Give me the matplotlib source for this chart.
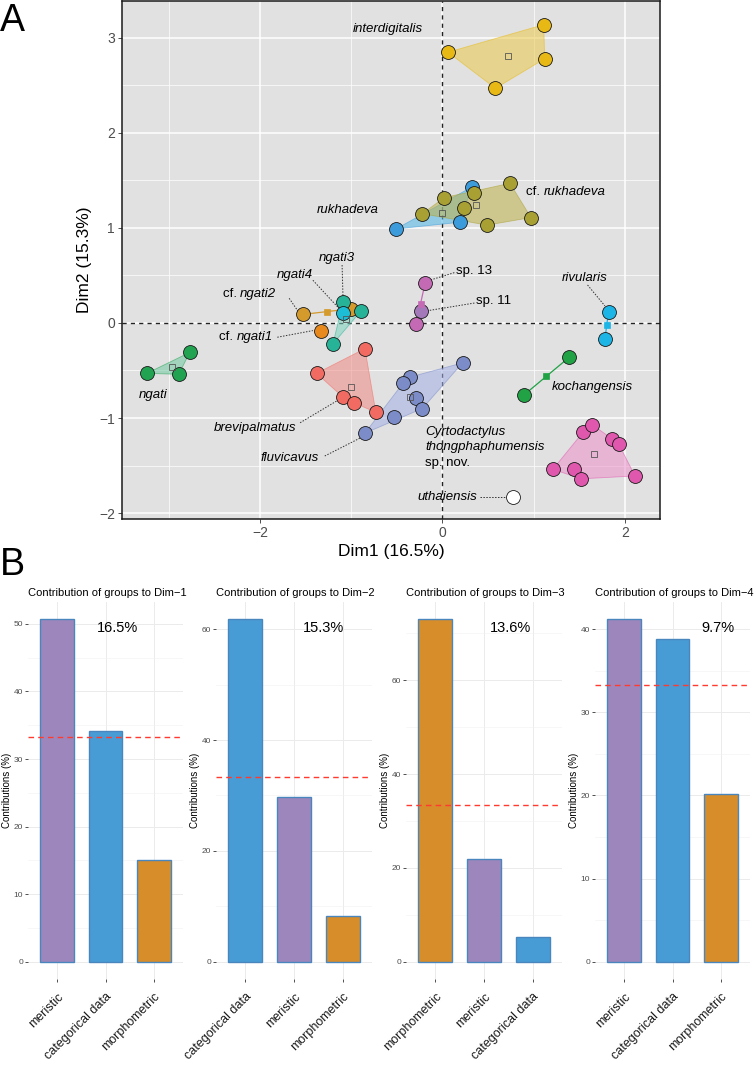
import numpy as np
import matplotlib
matplotlib.use("Agg")
import matplotlib.pyplot as plt
from matplotlib.transforms import ScaledTranslation

plt.rcParams['font.family'] = ['Liberation Sans', 'DejaVu Sans']

# ---------------- Panel A data (PCA individuals, Dim1 / Dim2) ----------------
interdigitalis_x = [0.06, 1.11, 1.12, 0.58]
interdigitalis_y = [2.85, 3.14, 2.78, 2.47]
cf_rukhadeva_x = [0.02, 0.35, 0.74, 0.97, 0.49, 0.24, -0.22]
cf_rukhadeva_y = [1.32, 1.37, 1.47, 1.11, 1.03, 1.21, 1.15]
rukhadeva_x = [-0.51, 0.32, 0.19]
rukhadeva_y = [0.99, 1.43, 1.06]
cf_ngati2_x = [-1.53, -1.00]
cf_ngati2_y = [0.09, 0.15]
cf_ngati1_x = [-1.33]
cf_ngati1_y = [-0.08]
ngati3_x = [-1.09, -0.89, -1.20]
ngati3_y = [0.22, 0.13, -0.22]
ngati4_x = [-1.09]
ngati4_y = [0.10]
ngati_x = [-3.24, -2.77, -2.89]
ngati_y = [-0.53, -0.31, -0.54]
brevipalmatus_x = [-1.38, -0.85, -1.09, -0.97, -0.73]
brevipalmatus_y = [-0.53, -0.27, -0.78, -0.84, -0.94]
fluvicavus_x = [0.22, -0.36, -0.43, -0.29, -0.22, -0.53, -0.85]
fluvicavus_y = [-0.42, -0.57, -0.63, -0.79, -0.90, -0.99, -1.16]
sp13_x = [-0.19, -0.29]
sp13_y = [0.42, -0.01]
sp11_x = [-0.24]
sp11_y = [0.13]
rivularis_x = [1.82, 1.78]
rivularis_y = [0.12, -0.17]
kochangensis_x = [1.39, 0.89]
kochangensis_y = [-0.36, -0.76]
thongphaphumensis_x = [1.54, 1.64, 1.86, 1.93, 1.21, 1.44, 1.52, 2.11]
thongphaphumensis_y = [-1.15, -1.07, -1.22, -1.27, -1.54, -1.54, -1.64, -1.61]
uthaiensis_x = [0.77]
uthaiensis_y = [-1.83]

dim1_percent = 16.5
dim2_percent = 15.3

# ---------------- Panel B data (contributions of groups) ----------------
dim1_categories = ["meristic", "categorical data", "morphometric"]
dim1_values = [50.7, 34.2, 15.0]
dim2_categories = ["categorical data", "meristic", "morphometric"]
dim2_values = [61.8, 29.7, 8.3]
dim3_categories = ["morphometric", "meristic", "categorical data"]
dim3_values = [73.0, 21.9, 5.3]
dim4_categories = ["meristic", "categorical data", "morphometric"]
dim4_values = [41.2, 38.8, 20.2]
dim_variance = ["16.5%", "15.3%", "13.6%", "9.7%"]
expected_contribution = 100.0 / 3

# ---------------- styles ----------------
groups = [
    ("ngati", ngati_x, ngati_y, "#22A352", "#6FC9A0"),
    ("cf_ngati2", cf_ngati2_x, cf_ngati2_y, "#D49A2C", None),
    ("cf_ngati1", cf_ngati1_x, cf_ngati1_y, "#E8891E", None),
    ("ngati3", ngati3_x, ngati3_y, "#27B398", "#7DD3C0"),
    ("ngati4", ngati4_x, ngati4_y, "#1DBDD6", None),
    ("brevipalmatus", brevipalmatus_x, brevipalmatus_y, "#F26B62", "#F08A84"),
    ("fluvicavus", fluvicavus_x, fluvicavus_y, "#7B8CC8", "#A3B0E6"),
    ("rukhadeva", rukhadeva_x, rukhadeva_y, "#3C9BDA", "#4FB8EA"),
    ("cf_rukhadeva", cf_rukhadeva_x, cf_rukhadeva_y, "#A9A033", "#BDB24A"),
    ("interdigitalis", interdigitalis_x, interdigitalis_y, "#E8B914", "#EAC94A"),
    ("sp13", sp13_x, sp13_y, "#C46AB5", None),
    ("sp11", sp11_x, sp11_y, "#A379B9", None),
    ("rivularis", rivularis_x, rivularis_y, "#1CB5E6", None),
    ("kochangensis", kochangensis_x, kochangensis_y, "#20A245", None),
    ("thongphaphumensis", thongphaphumensis_x, thongphaphumensis_y, "#E058AE", "#EC8FCB"),
    ("uthaiensis", uthaiensis_x, uthaiensis_y, "#FFFFFF", None),
]

bar_colors = {"meristic": "#9D86BC", "categorical data": "#489CD6",
              "morphometric": "#D68D2A"}


def convex_hull(pts):
    pts = sorted(set(pts))
    if len(pts) <= 2:
        return pts

    def cross(o, a, b):
        return (a[0] - o[0]) * (b[1] - o[1]) - (a[1] - o[1]) * (b[0] - o[0])
    lower, upper = [], []
    for p in pts:
        while len(lower) >= 2 and cross(lower[-2], lower[-1], p) <= 0:
            lower.pop()
        lower.append(p)
    for p in reversed(pts):
        while len(upper) >= 2 and cross(upper[-2], upper[-1], p) <= 0:
            upper.pop()
        upper.append(p)
    return lower[:-1] + upper[:-1]


W, H = 756, 1066
fig = plt.figure(figsize=(W / 100, H / 100), dpi=100)


def rect(l, t, r, b):
    return [l / W, 1 - b / H, (r - l) / W, (b - t) / H]


# ================= Panel A =================
ax = fig.add_axes(rect(122, 1, 660, 519))
ax.set_facecolor("#E1E1E1")
ax.set_xlim(-3.512, 2.384)
ax.set_ylim(-2.063, 3.389)
ax.set_xticks([-2, 0, 2])
ax.set_xticks([-3, -1, 1], minor=True)
ax.set_yticks([-2, -1, 0, 1, 2, 3])
ax.set_yticks([-1.5, -0.5, 0.5, 1.5, 2.5], minor=True)
ax.set_xticklabels(["\u22122", "0", "2"])
ax.set_yticklabels(["\u22122", "\u22121", "0", "1", "2", "3"])
ax.grid(which="major", color="white", lw=1.1, zorder=0)
ax.grid(which="minor", color="white", lw=0.5, zorder=0)
ax.set_axisbelow(True)
ax.tick_params(which="major", length=3, width=0.6, color="#333333",
               labelsize=10, labelcolor="#4D4D4D", pad=2)
ax.tick_params(which="minor", length=0)
for s in ax.spines.values():
    s.set_color("#1A1A1A")
    s.set_linewidth(1.1)
ax.set_xlabel(f"Dim1 ({dim1_percent}%)", fontsize=12.5, labelpad=3)
ax.set_ylabel(f"Dim2 ({dim2_percent}%)", fontsize=12.5, labelpad=5)

ax.axhline(0, color="#222222", lw=1.0, ls=(0, (3, 3)), zorder=1)
ax.axvline(0, color="#222222", lw=1.0, ls=(0, (3, 3)), zorder=1)

# hulls / connecting lines
for name, xs, ys, col, fill in groups:
    pts = list(zip(xs, ys))
    if len(pts) >= 3:
        hull = convex_hull(pts)
        hx = [p[0] for p in hull]
        hy = [p[1] for p in hull]
        ax.fill(hx, hy, facecolor=fill, alpha=0.55, edgecolor=col,
                lw=0.6, zorder=2)
    elif len(pts) == 2:
        ax.plot(xs, ys, color=col, lw=0.9, zorder=2)

# points
for name, xs, ys, col, fill in groups:
    ax.scatter(xs, ys, s=100, facecolor=col, edgecolor="#1A1A1A",
               linewidth=0.6, zorder=4)

# group centroids
for name, xs, ys, col, fill in groups:
    if len(xs) >= 3:
        ax.plot(np.mean(xs), np.mean(ys), marker="s", ms=4, mfc="none",
                mec="#555555", mew=0.6, zorder=5)
    elif len(xs) == 2:
        ax.plot(np.mean(xs), np.mean(ys), marker="s", ms=4, mfc=col,
                mec=col, mew=0.5, zorder=5)

# labels
LFS = 9.5


def lab(x, y, txt, prefix=None, ha="left"):
    if prefix is None:
        ax.text(x, y, txt, fontsize=LFS, style="italic", ha=ha, va="center",
                zorder=6)
    else:
        t1 = ax.text(x, y, prefix, fontsize=LFS, ha="left", va="center",
                     zorder=6)
        ax.annotate(txt, xy=(1, 0.5), xycoords=t1, fontsize=LFS,
                    style="italic", ha="left", va="center", zorder=6)


def leader(x0, y0, x1, y1):
    ax.plot([x0, x1], [y0, y1], color="#333333", lw=0.7,
            ls=(0, (1.5, 1.5)), zorder=3)


lab(-0.98, 3.09, "interdigitalis")
lab(0.92, 1.38, "rukhadeva", prefix="cf. ")
lab(-1.38, 1.19, "rukhadeva")
lab(-1.16, 0.68, "ngati3", ha="center")
leader(-1.10, 0.61, -1.09, 0.27)
lab(-1.62, 0.50, "ngati4", ha="center")
leader(-1.42, 0.45, -1.15, 0.17)
lab(-2.41, 0.31, "ngati2", prefix="cf. ")
leader(-1.68, 0.26, -1.58, 0.12)
lab(-2.45, -0.15, "ngati1", prefix="cf. ")
leader(-1.81, -0.15, -1.42, -0.08)
lab(-3.17, -0.76, "ngati", ha="center")
lab(-2.05, -1.10, "brevipalmatus", ha="center")
leader(-1.56, -1.05, -1.14, -0.81)
lab(-1.67, -1.42, "fluvicavus", ha="center")
leader(-1.29, -1.40, -0.88, -1.20)
ax.text(0.15, 0.55, "sp. 13", fontsize=LFS, ha="left", va="center", zorder=6)
leader(0.13, 0.53, -0.14, 0.45)
ax.text(0.37, 0.23, "sp. 11", fontsize=LFS, ha="left", va="center", zorder=6)
leader(0.35, 0.21, -0.16, 0.13)
lab(1.56, 0.47, "rivularis", ha="center")
leader(1.59, 0.40, 1.78, 0.18)
lab(1.20, -0.67, "kochangensis")
lab(-0.19, -1.15, "Cyrtodactylus")
lab(-0.19, -1.31, "thongphaphumensis")
ax.text(-0.19, -1.47, "sp. nov.", fontsize=LFS, ha="left", va="center",
        zorder=6)
lab(0.38, -1.83, "uthaiensis", ha="right")
leader(0.41, -1.83, 0.71, -1.83)

fig.text(0.0, 1 - 31 / H, "A", fontsize=27, va="baseline", ha="left")
fig.text(0.0, 1 - 575 / H, "B", fontsize=27, va="baseline", ha="left")

# ================= Panel B =================
bar_sets = [
    (dim1_categories, dim1_values, [0, 10, 20, 30, 40, 50], "Dim\u22121", 28, 183, 0.58),
    (dim2_categories, dim2_values, [0, 20, 40, 60], "Dim\u22122", 216, 372, 0.69),
    (dim3_categories, dim3_values, [0, 20, 40, 60], "Dim\u22123", 406, 562, 0.67),
    (dim4_categories, dim4_values, [0, 10, 20, 30, 40], "Dim\u22124", 595, 750, 0.79),
]

for i, (cats, vals, yt, dname, l, r, tx) in enumerate(bar_sets):
    bx = fig.add_axes(rect(l, 602, r, 979))
    pos = np.arange(1, len(cats) + 1)
    bx.bar(pos, vals, width=0.7, color=[bar_colors[c] for c in cats],
           edgecolor="#4A86BE", linewidth=1.0, zorder=2)
    vmax = max(vals)
    bx.set_ylim(-0.05 * vmax, 1.05 * vmax)
    bx.set_xlim(0.4, len(cats) + 0.6)
    step = yt[1] - yt[0]
    bx.set_yticks(yt)
    minor = np.arange(step / 2, 1.05 * vmax, step)
    bx.set_yticks(minor, minor=True)
    bx.set_xticks(pos)
    bx.set_xticklabels(cats, rotation=45, ha="right", va="top",
                       rotation_mode="anchor", fontsize=9, color="#1A1A1A")
    offs = ScaledTranslation(4 / 72, 0, fig.dpi_scale_trans)
    for t in bx.get_xticklabels():
        t.set_transform(t.get_transform() + offs)
    bx.grid(which="major", color="#EBEBEB", lw=0.7, zorder=0)
    bx.grid(which="minor", axis="y", color="#F2F2F2", lw=0.4, zorder=0)
    bx.set_axisbelow(True)
    for s in bx.spines.values():
        s.set_visible(False)
    bx.tick_params(axis="y", which="major", length=2.5, width=0.6,
                   color="#333333", labelsize=6, labelcolor="#4D4D4D", pad=1)
    bx.tick_params(axis="x", which="major", length=2.5, width=0.6,
                   color="#333333", pad=6)
    bx.tick_params(which="minor", length=0)
    bx.axhline(expected_contribution, color="#FF3B30", lw=1.0,
               ls=(0, (4, 3)), zorder=3)
    bx.set_ylabel("Contributions (%)", fontsize=7, labelpad=1)
    bx.set_title(f"Contribution of groups to {dname}", fontsize=8,
                 loc="left", pad=4)
    bx.text(tx, 0.93, dim_variance[i], transform=bx.transAxes, fontsize=10.5,
            ha="center", va="center", zorder=4)

fig.savefig("out.png", dpi=100)
